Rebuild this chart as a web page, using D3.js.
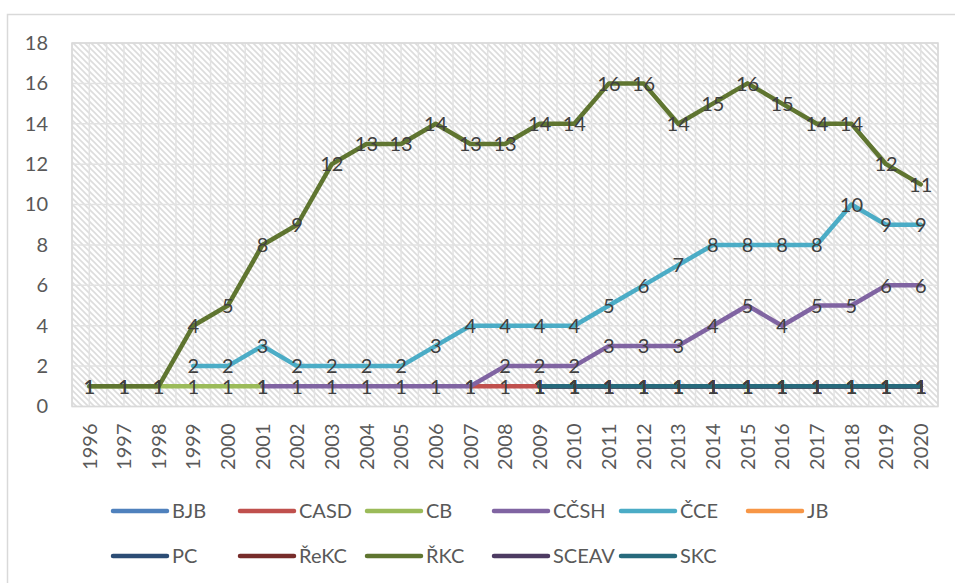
<!DOCTYPE html>
<html>
<head>
<meta charset="utf-8">
<script src="https://cdn.jsdelivr.net/npm/d3@7"></script>
<style>
  body { margin: 0; background: #fff; }
  text { font-family: Lato, "Open Sans", sans-serif; }
</style>
</head>
<body>
<svg id="chart"></svg>
<script>
const years = d3.range(1996, 2021).map(String)
const yTicks = [0, 2, 4, 6, 8, 10, 12, 14, 16, 18]
const names = ["BJB", "CASD", "CB", "CČSH", "ČCE", "JB", "PC", "ŘeKC", "ŘKC", "SCEAV", "SKC"]
const colors = ["#4f81bd", "#c0504d", "#9bbb59", "#8064a2", "#4bacc6", "#f79646", "#2c4d75", "#772c2a", "#5f7530", "#4d3b62", "#276a7c"]

const _ = null
// 1996 ... 2020
const BJB   = [_,_,_,_,_,_,_,_,_,_,_,_,_,1,1,1,1,1,1,1,1,1,1,1,1]
const CASD  = [_,_,_,_,_,_,_,_,_,_,_,1,1,1,1,1,1,1,1,1,1,1,1,1,1]
const CB    = [1,1,1,1,1,1,_,_,_,_,_,_,_,_,_,_,_,_,_,_,_,_,_,_,_]
const CCSH  = [_,_,_,_,_,1,1,1,1,1,1,1,2,2,2,3,3,3,4,5,4,5,5,6,6]
const CCE   = [_,_,_,2,2,3,2,2,2,2,3,4,4,4,4,5,6,7,8,8,8,8,10,9,9]
const JB    = [_,_,_,_,_,_,_,_,_,_,_,_,_,1,1,1,1,1,1,1,1,1,1,1,1]
const PC    = [_,_,_,_,_,_,_,_,_,_,_,_,_,1,1,1,1,1,1,1,1,1,1,1,1]
const ReKC  = [_,_,_,_,_,_,_,_,_,_,_,_,_,1,1,1,1,1,1,1,1,1,1,1,1]
const RKC   = [1,1,1,4,5,8,9,12,13,13,14,13,13,14,14,16,16,14,15,16,15,14,14,12,11]
const SCEAV = [_,_,_,_,_,_,_,_,_,_,_,_,_,1,1,1,1,1,1,1,1,1,1,1,1]
const SKC   = [_,_,_,_,_,_,_,_,_,_,_,_,_,1,1,1,1,1,1,1,1,1,1,1,1]

const values = [BJB, CASD, CB, CCSH, CCE, JB, PC, ReKC, RKC, SCEAV, SKC]
const series = names.map((n, i) => ({
    name: n,
    color: colors[i],
    points: years.map((y, j) => ({year: y, value: values[i][j]}))
}))

const width = 955
const height = 583
const plot = {left: 72, right: 938, top: 43, bottom: 406.5}

const svg = d3.select("#chart").attr("width", width).attr("height", height)

// hatch pattern of the plot area
const defs = svg.append("defs")
defs.append("pattern")
    .attr("id", "hatch")
    .attr("patternUnits", "userSpaceOnUse")
    .attr("width", 6).attr("height", 6)
    .call(p => {
        p.append("rect").attr("width", 6).attr("height", 6).attr("fill", "#fff")
        p.append("path").attr("d", "M-1,-1 L7,7 M-4,2 L1,7 M2,-4 L7,1")
            .attr("stroke", "#dcdcdc").attr("stroke-width", 1.6)
    })

// outer chart border
svg.append("rect")
    .attr("x", 7.5).attr("y", 14.5)
    .attr("width", 1000).attr("height", 700)
    .attr("fill", "#fff").attr("stroke", "#d9d9d9").attr("stroke-width", 1.5)

const x = d3.scaleBand().domain(years).range([plot.left, plot.right]).padding(0)
const y = d3.scaleLinear().domain([0, 18]).range([plot.bottom, plot.top])
const cx = d => x(d) + x.bandwidth() / 2

svg.append("rect")
    .attr("x", plot.left).attr("y", plot.top)
    .attr("width", plot.right - plot.left).attr("height", plot.bottom - plot.top)
    .attr("fill", "url(#hatch)")

// gridlines
const grid = svg.append("g").attr("stroke", "#e2e2e2").attr("stroke-width", 1.5)
grid.selectAll(".vg")
    .data(d3.range(0, years.length * 2 + 1))
    .join("line")
    .attr("x1", i => plot.left + i * x.bandwidth() / 2)
    .attr("x2", i => plot.left + i * x.bandwidth() / 2)
    .attr("y1", plot.top).attr("y2", plot.bottom)
grid.selectAll(".hg")
    .data(yTicks)
    .join("line")
    .attr("x1", plot.left).attr("x2", plot.right)
    .attr("y1", d => y(d)).attr("y2", d => y(d))

svg.append("rect")
    .attr("x", plot.left).attr("y", plot.top)
    .attr("width", plot.right - plot.left).attr("height", plot.bottom - plot.top)
    .attr("fill", "none").attr("stroke", "#d9d9d9").attr("stroke-width", 1.5)

// axes
const yAxis = svg.append("g")
    .attr("transform", `translate(${plot.left},0)`)
    .call(d3.axisLeft(y).tickValues(yTicks).tickSize(0).tickPadding(24))
yAxis.select(".domain").remove()
yAxis.selectAll("text").attr("font-size", 20).attr("fill", "#595959")
    .attr("font-family", "Lato, sans-serif")

const xAxis = svg.append("g")
    .attr("transform", `translate(0,${plot.bottom})`)
    .call(d3.axisBottom(x).tickSize(0))
xAxis.select(".domain").remove()
xAxis.selectAll("text")
    .attr("font-size", 20).attr("fill", "#595959")
    .attr("font-family", "Lato, sans-serif")
    .attr("transform", "rotate(-90)")
    .attr("text-anchor", "end")
    .attr("x", -17).attr("y", 0).attr("dy", "0.36em")

// lines
const line = d3.line()
    .defined(d => d.value !== null)
    .x(d => cx(d.year))
    .y(d => y(d.value))

svg.append("g").selectAll("path")
    .data(series)
    .join("path")
    .attr("d", d => line(d.points))
    .attr("fill", "none")
    .attr("stroke", d => d.color)
    .attr("stroke-width", 4.5)
    .attr("stroke-linejoin", "round")
    .attr("stroke-linecap", "round")

// data labels
const labels = svg.append("g")
series.forEach(s => {
    labels.selectAll(null)
        .data(s.points.filter(p => p.value !== null))
        .join("text")
        .attr("x", d => cx(d.year))
        .attr("y", d => y(d.value))
        .attr("dy", "0.36em")
        .attr("text-anchor", "middle")
        .attr("font-size", 20)
        .attr("fill", "#404040")
        .text(d => d.value)
})

// legend
const legend = svg.append("g").selectAll("g")
    .data(series)
    .join("g")
    .attr("transform", (d, i) => `translate(${113 + (i % 6) * 127},${i < 6 ? 511 : 556})`)
legend.append("line")
    .attr("x1", 0).attr("x2", 54)
    .attr("stroke", d => d.color)
    .attr("stroke-width", 4.5)
    .attr("stroke-linecap", "round")
legend.append("text")
    .attr("x", 59).attr("dy", "0.36em")
    .attr("font-size", 20).attr("fill", "#595959")
    .text(d => d.name)
</script>
</body>
</html>
